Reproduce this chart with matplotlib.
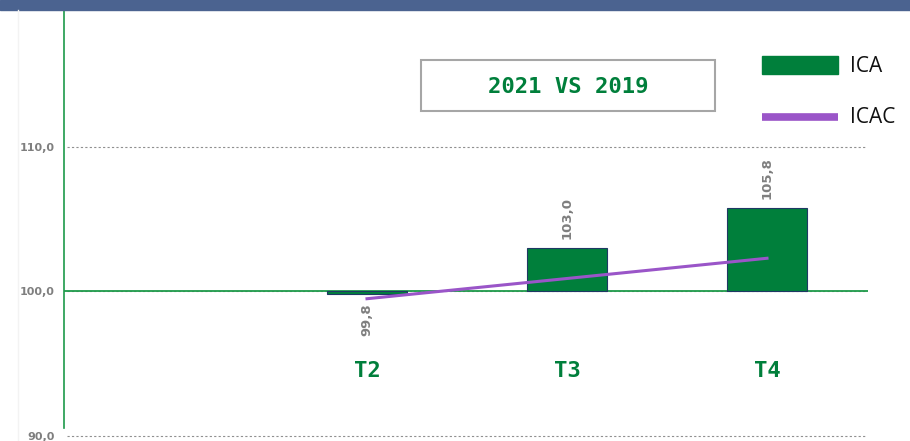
import matplotlib
matplotlib.use('Agg')
import matplotlib.pyplot as plt
from matplotlib.patches import Rectangle
from matplotlib.lines import Line2D

# data
quarters = ['T1', 'T2', 'T3', 'T4']
ica = [None, 99.8, 103.0, 105.8]
icac = [None, 99.5, 100.9, 102.3]
yticks = [90, 100, 110]
title = '2021 VS 2019'

GREEN = '#007f3b'
PURPLE = '#9a55c8'
GRAY = '#7f7f7f'
W, H = 910, 441

fig = plt.figure(figsize=(W / 100, H / 100), dpi=100)

# top band
fig.patches.append(Rectangle((0, 1 - 10 / H), 1, 10 / H, transform=fig.transFigure,
                             color='#4b6390', zorder=0))
# faint left rule
fig.add_artist(Line2D([18 / W, 18 / W], [0, 1 - 10 / H], transform=fig.transFigure,
                      color='#f3f3f3', lw=1))

ax = fig.add_axes([64 / W, 5 / H, 804 / W, 426 / H])
ax.set_xlim(-0.515, 3.505)
ax.set_ylim(90, 119.48)
for s in ax.spines.values():
    s.set_visible(False)

# gridlines
for y in yticks:
    ax.hlines(y, -0.5, 3.5, colors='#909090', linestyles=(0, (2, 2)), lw=0.8,
              zorder=1, clip_on=False)
ax.axhline(100, color='#1e9a4a', lw=1.3, zorder=2)
ax.plot([-0.515, -0.515], [90.55, 119.48], color='#1e9a4a', lw=1.2, clip_on=False)

ax.set_xticks([])
ax.set_yticks(yticks)
ax.set_yticklabels([f'{v:.1f}'.replace('.', ',') for v in yticks],
                   color=GRAY, fontsize=8, fontweight='bold')
ax.tick_params(axis='y', length=0, pad=7)

# bars
xs = [i for i, v in enumerate(ica) if v is not None]
vals = [v for v in ica if v is not None]
ax.bar(xs, [v - 100 for v in vals], bottom=100, width=0.4, color=GREEN,
       edgecolor='#1f3864', lw=0.8, zorder=3)
for x, v in zip(xs, vals):
    lbl = f'{v:.1f}'.replace('.', ',')
    if v >= 100:
        ax.text(x, v + 0.6, lbl, rotation=90, ha='center', va='bottom',
                color=GRAY, fontsize=9.5, fontweight='bold')
    else:
        ax.text(x, v - 0.6, lbl, rotation=90, ha='center', va='top',
                color=GRAY, fontsize=9.5, fontweight='bold')

# ICAC line
lx = [i for i, v in enumerate(icac) if v is not None]
ly = [v for v in icac if v is not None]
ax.plot(lx, ly, color=PURPLE, lw=2.2, zorder=4)

# category labels
for i, q in enumerate(quarters):
    if ica[i] is not None:
        ax.text(i, 94.5, q, ha='center', va='center', color=GREEN,
                fontsize=16, fontweight='bold', family='DejaVu Sans Mono')

# title box
fig.patches.append(Rectangle((421 / W, 1 - 111 / H), 294 / W, 51 / H,
                             transform=fig.transFigure, fill=False,
                             edgecolor='#a6a6a6', lw=1.5))
fig.text(568 / W, 1 - 87 / H, title, ha='center', va='center', color=GREEN,
         fontsize=16, fontweight='bold', family='DejaVu Sans Mono')

# legend
fig.patches.append(Rectangle((762 / W, 1 - 74 / H), 76 / W, 18 / H,
                             transform=fig.transFigure, color=GREEN))
fig.add_artist(Line2D([762 / W, 838 / W], [1 - 117 / H, 1 - 117 / H],
                      transform=fig.transFigure, color=PURPLE, lw=5.5,
                      solid_capstyle='butt'))
fig.text(850 / W, 1 - 66 / H, 'ICA', ha='left', va='center', fontsize=15,
         family='Open Sans', color='#111111')
fig.text(850 / W, 1 - 117 / H, 'ICAC', ha='left', va='center', fontsize=15,
         family='Open Sans', color='#111111')

fig.savefig('out.png', dpi=100)
